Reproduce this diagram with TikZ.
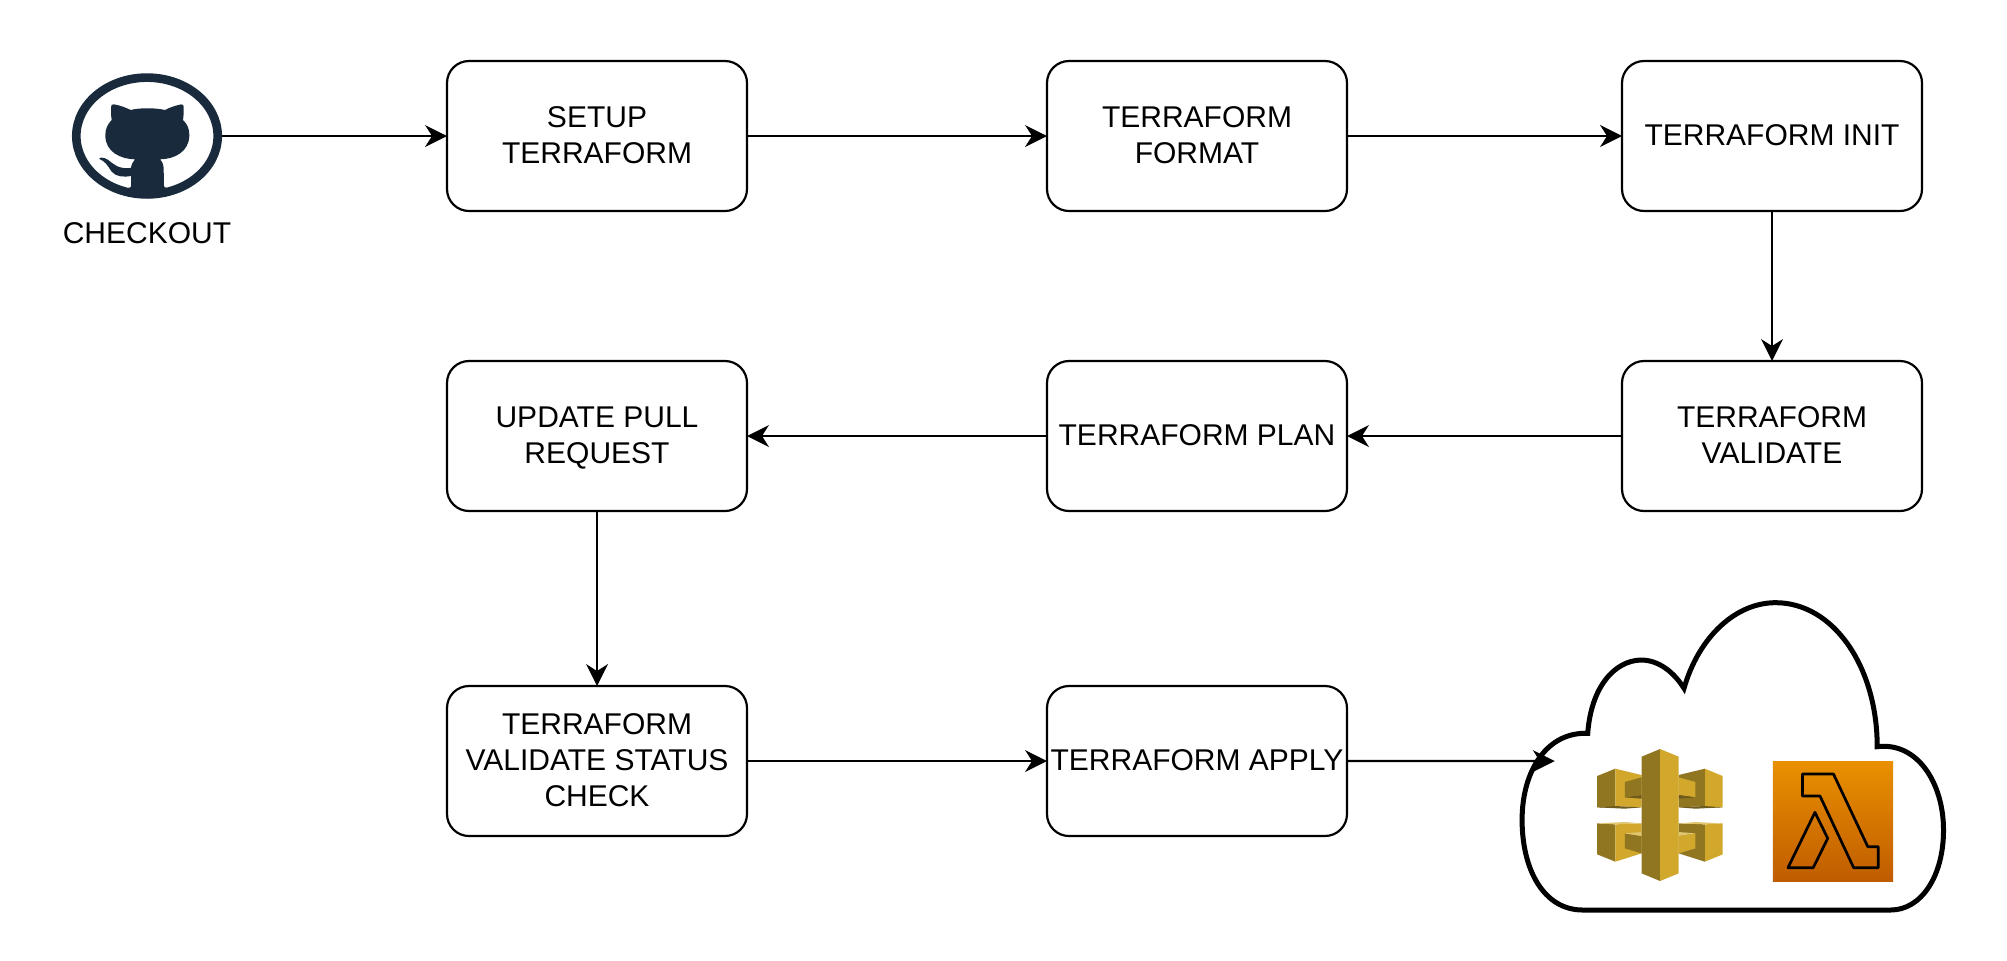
\documentclass[tikz,border=0pt]{standalone}
\usepackage{fontspec}
\setmainfont{Liberation Sans}
\usetikzlibrary{arrows.meta,shapes.geometric}
\definecolor{ghblue}{HTML}{182A3B}
\definecolor{gwdark}{HTML}{917622}
\definecolor{gwlight}{HTML}{D1A82C}
\definecolor{gwshade}{HTML}{6E5A1C}
\definecolor{gwpale}{HTML}{E0C670}
\definecolor{lamtop}{HTML}{E99000}
\definecolor{lambot}{HTML}{C05C00}
\tikzset{
  stepbox/.style={draw=black,line width=1.1pt,rounded corners=11pt,minimum width=150pt,minimum height=75pt,inner sep=0pt,outer sep=0pt,align=center,font=\labelfont},
  flow/.style={draw=black,line width=1.1pt,-{Stealth[length=11pt,width=11pt,inset=3.5pt,line width=0pt]}},
  zoomA/.style={xshift=20pt,yshift=-20pt,x=0.16667pt,y=-0.16667pt},
  zoomB/.style={xshift=740pt,yshift=-285pt,x=0.1683pt,y=-0.16667pt}
}
\newcommand{\labelfont}{\fontsize{15}{18}\selectfont}
\newcommand{\ls}{\rule[-4.2pt]{0pt}{18pt}}
\begin{document}
\begin{tikzpicture}[x=0.5pt,y=-0.5pt]
\useasboundingbox (0,0) rectangle (2007,960);
\fill[white] (0,0) rectangle (2007,960);
% GitHub
\node[ellipse,draw=ghblue,line width=4.33pt,minimum width=70.7pt,minimum height=58.4pt,inner sep=0pt] (gh) at (147,136) {};
\begin{scope}[zoomA]
\fill[ghblue] (213,203) .. controls (212,195) and (216,192) .. (222,193)
  .. controls (240,196) and (258,203) .. (272,210)
  .. controls (300,203) and (345,203) .. (375,210)
  .. controls (390,202) and (408,196) .. (424,193)
  .. controls (430,192) and (432,197) .. (431,204)
  .. controls (431,215) and (431,228) .. (429,240)
  .. controls (442,252) and (449,268) .. (448,288)
  .. controls (446,335) and (405,357) .. (360,358)
  .. controls (368,366) and (371,376) .. (371,388)
  -- (372,438) .. controls (372,442) and (376,444) .. (382,443)
  .. controls (362,462) and (345,475) .. (322,475)
  .. controls (300,475) and (280,462) .. (265,443)
  .. controls (270,444) and (273,442) .. (273,438)
  -- (273,408)
  .. controls (250,412) and (228,410) .. (215,395)
  .. controls (205,380) and (195,362) .. (178,357)
  .. controls (176,352) and (190,350) .. (205,360)
  .. controls (220,372) and (235,388) .. (272,384)
  .. controls (274,374) and (278,366) .. (285,358)
  .. controls (240,357) and (197,335) .. (196,288)
  .. controls (195,268) and (203,252) .. (215,240)
  .. controls (213,228) and (213,215) .. (213,203) -- cycle;
\end{scope}
\node[font=\labelfont,inner sep=0pt] (checkout) at (147,233.5) {\ls CHECKOUT};
% Steps
\node[stepbox] (b1) at (597,136) {\ls SETUP\\\ls TERRAFORM};
\node[stepbox] (b2) at (1197,136) {\ls TERRAFORM\\\ls FORMAT};
\node[stepbox] (b3) at (1772,136) {\ls TERRAFORM INIT};
\node[stepbox] (b4) at (1772,436) {\ls TERRAFORM\\\ls VALIDATE};
\node[stepbox] (b5) at (1197,436) {\ls TERRAFORM PLAN};
\node[stepbox] (b6) at (597,436) {\ls UPDATE PULL\\\ls REQUEST};
\node[stepbox] (b7) at (597,761) {\ls TERRAFORM\\\ls VALIDATE STATUS\\\ls CHECK};
\node[stepbox] (b8) at (1197,761) {\ls TERRAFORM APPLY};
% Cloud
\begin{scope}[zoomB]
\draw[black,line width=2.5pt,miter limit=10] (320,490)
  .. controls (330,350) and (400,272) .. (478,270)
  .. controls (530,270) and (575,305) .. (606,355)
  .. controls (650,200) and (760,98) .. (878,98)
  .. controls (1050,98) and (1180,290) .. (1180,530)
  .. controls (1300,515) and (1377,640) .. (1377,780)
  .. controls (1377,920) and (1310,1020) .. (1220,1020)
  -- (305,1020)
  .. controls (190,1020) and (125,900) .. (125,750)
  .. controls (125,600) and (200,485) .. (320,490) -- cycle;
% API gateway
\fill[gwdark] (348,618) -- (402,596) -- (402,712) -- (348,712) -- cycle;
\fill[gwlight] (402,596) -- (480,615) -- (480,712) -- (402,708) -- cycle;
\fill[gwdark] (430,636) -- (480,622) -- (480,675) -- (430,682) -- cycle;
\fill[gwshade] (430,682) -- (480,675) -- (480,686) -- cycle;
\fill[gwshade] (348,712) -- (402,708) -- (480,712) -- (430,716) -- cycle;
\fill[gwlight] (721,618) -- (668,596) -- (668,712) -- (721,712) -- cycle;
\fill[gwdark] (668,596) -- (590,615) -- (590,712) -- (668,708) -- cycle;
\fill[gwlight] (640,636) -- (590,622) -- (590,675) -- (640,682) -- cycle;
\fill[gwshade] (640,682) -- (590,675) -- (590,686) -- cycle;
\fill[gwshade] (721,712) -- (668,708) -- (590,712) -- (640,716) -- cycle;
\fill[gwdark] (348,760) -- (402,763) -- (402,875) -- (348,853) -- cycle;
\fill[gwlight] (402,763) -- (480,760) -- (480,850) -- (402,875) -- cycle;
\fill[gwdark] (430,790) -- (480,798) -- (480,850) -- (430,835) -- cycle;
\fill[gwpale] (430,790) -- (480,786) -- (480,798) -- cycle;
\fill[gwpale] (348,760) -- (430,756) -- (480,760) -- (402,763) -- cycle;
\fill[gwlight] (721,760) -- (668,763) -- (668,875) -- (721,853) -- cycle;
\fill[gwdark] (668,763) -- (590,760) -- (590,850) -- (668,875) -- cycle;
\fill[gwlight] (640,790) -- (590,798) -- (590,850) -- (640,835) -- cycle;
\fill[gwpale] (640,790) -- (590,786) -- (590,798) -- cycle;
\fill[gwpale] (721,760) -- (640,756) -- (590,760) -- (668,763) -- cycle;
\fill[gwdark] (480,560) -- (535,537) -- (535,933) -- (480,910) -- cycle;
\fill[gwlight] (535,537) -- (590,560) -- (590,910) -- (535,933) -- cycle;
% Lambda
\shade[top color=lamtop,bottom color=lambot] (870,573) rectangle (1227,933);
\draw[black,line width=1.35pt,line join=round] (958,612) -- (1050,612) -- (1152,830) -- (1183,830) -- (1183,893) -- (1110,893) -- (1010,678) -- (958,678) -- cycle;
\draw[black,line width=1.35pt,line join=round] (995,727) -- (1033,805) -- (990,893) -- (915,893) -- cycle;
\coordinate (cloudin) at (222,573);
\end{scope}
% Connectors
\draw[flow] (gh) -- (b1);
\draw[flow] (b1) -- (b2);
\draw[flow] (b2) -- (b3);
\draw[flow] (b3) -- (b4);
\draw[flow] (b4) -- (b5);
\draw[flow] (b5) -- (b6);
\draw[flow] (b6) -- (b7);
\draw[flow] (b7) -- (b8);
\draw[flow] (b8.east) -- (cloudin);
\end{tikzpicture}
\end{document}
